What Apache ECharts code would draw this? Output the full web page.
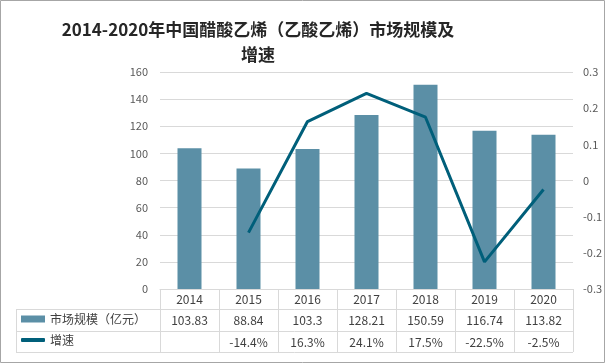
<!DOCTYPE html>
<html>
<head>
<meta charset="utf-8">
<style>
html,body{margin:0;padding:0;background:#fff;}
#c{width:606px;height:364px;}
</style>
<script src="https://cdn.jsdelivr.net/npm/echarts@6/dist/echarts.min.js"></script>
</head>
<body>
<div id="c"></div>
<script>
var years = ['2014','2015','2016','2017','2018','2019','2020'];
var marketSize = [103.83, 88.84, 103.3, 128.21, 150.59, 116.74, 113.82];
var growth = [null, -0.144, 0.163, 0.241, 0.175, -0.225, -0.025];
var growthLabels = ['', '-14.4%', '16.3%', '24.1%', '17.5%', '-22.5%', '-2.5%'];
var sizeLabels = ['103.83', '88.84', '103.3', '128.21', '150.59', '116.74', '113.82'];
var leftTicks = [0, 20, 40, 60, 80, 100, 120, 140, 160];
var rightTicks = [-0.3, -0.2, -0.1, 0, 0.1, 0.2, 0.3];
var titleLines = ['2014-2020年中国醋酸乙烯（乙酸乙烯）市场规模及', '增速'];

var FONT = '"Noto Sans CJK SC","Noto Sans",sans-serif';
var barColor = '#5b8fa6';
var lineColor = '#005f7a';
var gridColor = '#d9d9d9';
var tableText = '#404040';

var chart = echarts.init(document.getElementById('c'));
var tableLines = [];
[309, 331, 352].forEach(function (y) {
  tableLines.push({type: 'line', shape: {x1: 16, y1: y + 0.5, x2: 573, y2: y + 0.5}, style: {stroke: gridColor, lineWidth: 1}, silent: true});
});
tableLines.push({type: 'line', shape: {x1: 16.5, y1: 309, x2: 16.5, y2: 352}, style: {stroke: gridColor, lineWidth: 1}, silent: true});
tableLines.push({type: 'rect', shape: {x: 0.5, y: 0.5, width: 604, height: 362}, style: {fill: 'none', stroke: '#a6a6a6', lineWidth: 1}, silent: true});

var titleStyle = {fontSize: 17, fontWeight: 'bold', color: '#262626', fontFamily: FONT};

chart.setOption({
  animation: false,
  textStyle: {fontFamily: FONT},
  title: [{
    text: titleLines[0], left: 258, textAlign: 'center', top: 21, padding: 0,
    textStyle: titleStyle
  }, {
    text: titleLines[1], left: 258, textAlign: 'center', top: 46, padding: 0,
    textStyle: titleStyle
  }],
  legend: [{
    data: [{name: '市场规模（亿元）', icon: 'rect'}],
    left: 21, top: 313, padding: 0, itemWidth: 24, itemHeight: 7, itemGap: 6,
    textStyle: {fontSize: 12, color: tableText, fontFamily: FONT}
  }, {
    data: [{name: '增速', icon: 'roundRect'}],
    left: 21, top: 334, padding: 0, itemWidth: 24, itemHeight: 4, itemGap: 6,
    textStyle: {fontSize: 12, color: tableText, fontFamily: FONT}
  }],
  grid: {left: 160, right: 33, top: 72, bottom: 75, containLabel: false},
  xAxis: [{
    type: 'category', data: years, position: 'bottom',
    axisLine: {show: true, lineStyle: {color: gridColor}},
    axisTick: {show: true, length: 63, lineStyle: {color: gridColor}},
    axisLabel: {color: tableText, fontSize: 12, margin: 4}
  }, {
    type: 'category', data: sizeLabels, position: 'bottom', offset: 21,
    axisLine: {show: false}, axisTick: {show: false},
    axisLabel: {color: tableText, fontSize: 12, margin: 4}
  }, {
    type: 'category', data: growthLabels, position: 'bottom', offset: 43,
    axisLine: {show: false}, axisTick: {show: false},
    axisLabel: {color: tableText, fontSize: 12, margin: 4}
  }],
  yAxis: [{
    type: 'value', min: leftTicks[0], max: leftTicks[leftTicks.length - 1], interval: 20,
    axisLine: {show: false}, axisTick: {show: false},
    splitLine: {lineStyle: {color: gridColor}},
    axisLabel: {color: '#595959', fontSize: 11, margin: 12}
  }, {
    type: 'value', min: rightTicks[0], max: rightTicks[rightTicks.length - 1], interval: 0.1,
    axisLine: {show: false}, axisTick: {show: false},
    splitLine: {show: false},
    axisLabel: {color: '#595959', fontSize: 11, margin: 10,
      formatter: function (v) { return String(Math.round(v * 10) / 10); }}
  }],
  series: [{
    name: '市场规模（亿元）', type: 'bar', data: marketSize, barWidth: 24,
    itemStyle: {color: barColor}, xAxisIndex: 0, yAxisIndex: 0
  }, {
    name: '增速', type: 'line', data: growth, yAxisIndex: 1, xAxisIndex: 0,
    showSymbol: false, symbol: 'none',
    lineStyle: {color: lineColor, width: 3}, itemStyle: {color: lineColor}
  }],
  graphic: tableLines
});
</script>
</body>
</html>
